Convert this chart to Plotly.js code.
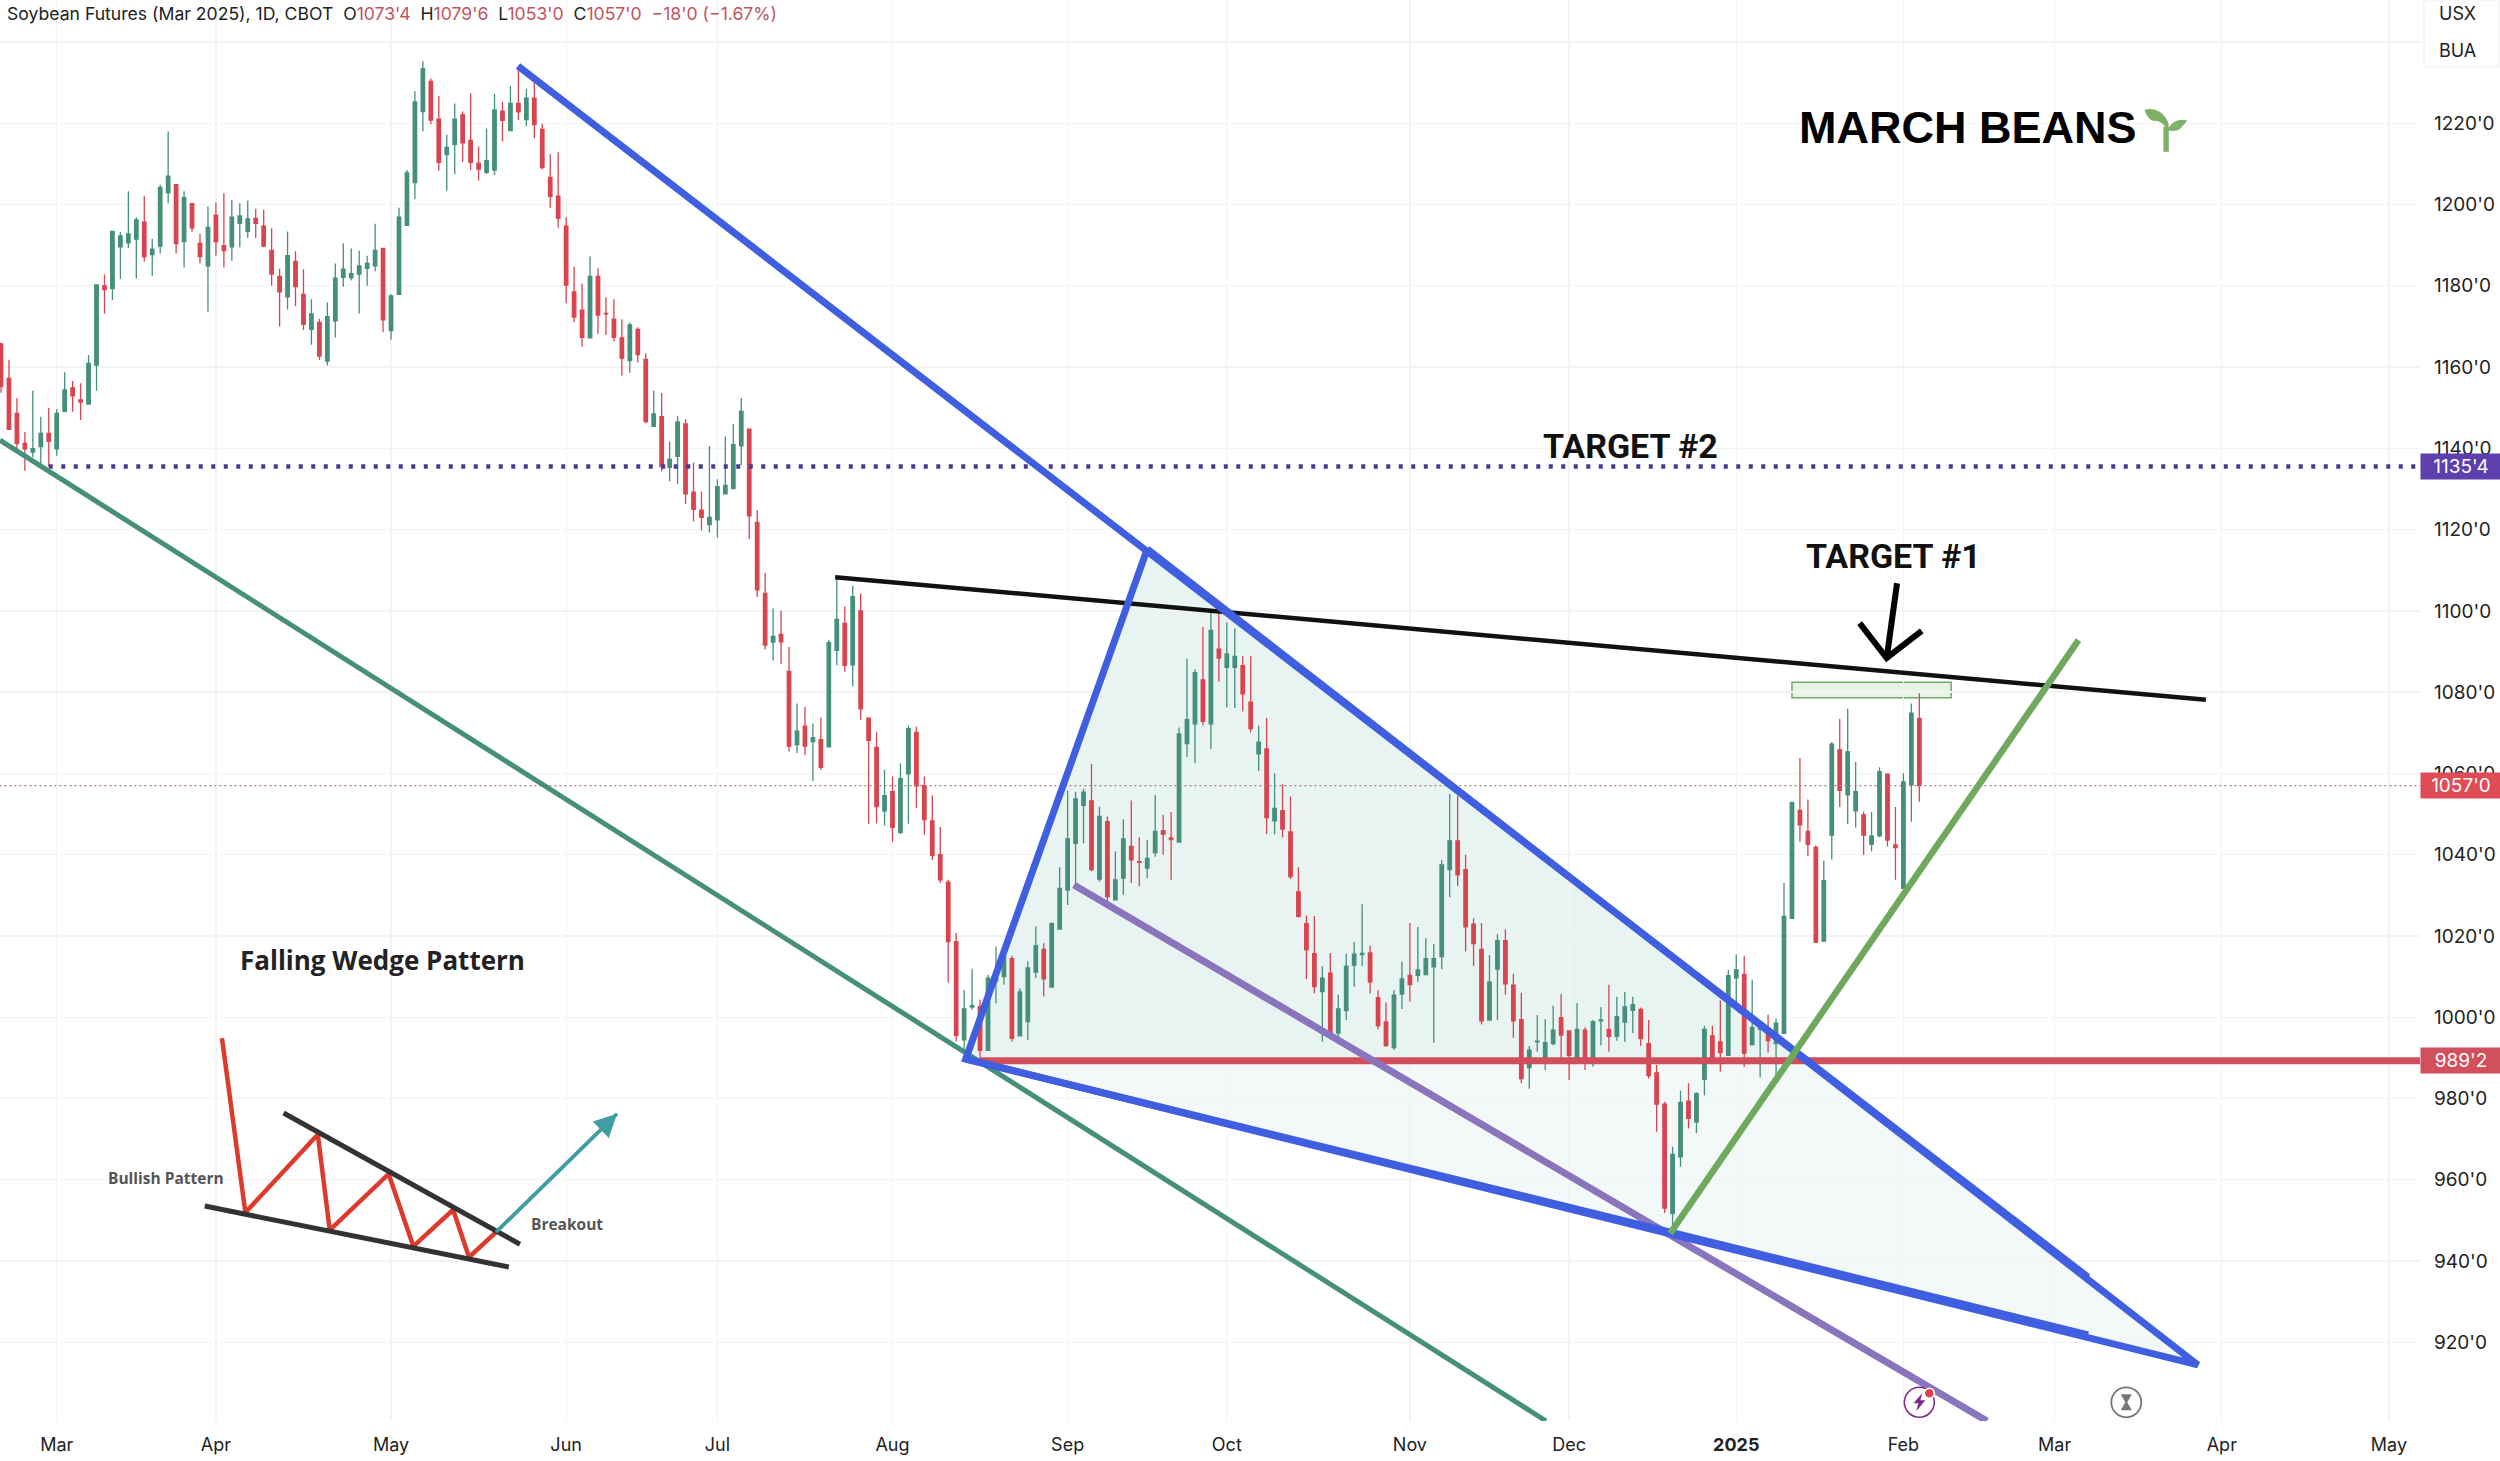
<!DOCTYPE html>
<html><head><meta charset="utf-8">
<script src="https://cdn.plot.ly/plotly-3.0.1.min.js"></script>
<style>html,body{margin:0;padding:0;background:#fff}#c{width:2500px;height:1461px}</style>
</head><body><div id="c"></div>
<script>
// Candles: bar index is the position (price in cents/bu)
const opens=[1165.7,1157.2,1148.6,1141.2,1139.1,1140.4,1143.7,1139.9,1149.1,1154.9,
1151.9,1150.9,1160.5,1180,1179.3,1189.6,1190.6,1191.5,1195.7,1187.7,
1189.8,1202.9,1204.9,1190.9,1200.2,1190.5,1184.9,1197.4,1189.9,1189.6,
1195.4,1193.4,1196.6,1194.7,1188.7,1182.3,1177.3,1186,1177.9,1169.3,
1171,1161.5,1171.4,1182.1,1182,1182.9,1184.3,1184.9,1189.2,1169,
1177.9,1194.9,1205.4,1222.9,1230.3,1221,1212.3,1214.8,1222.1,1215.8,
1210.2,1207.9,1208.5,1223,1218.2,1224.9,1220.9,1226.2,1218.5,1206.7,
1202.1,1194.7,1178.5,1174,1167.2,1182.3,1173.2,1171.8,1167.2,1161.6,
1169.3,1161.9,1145.4,1147.8,1135.3,1138,1146,1129.2,1124.8,1121.2,
1122.4,1128.8,1130.1,1140.6,1144.7,1121.8,1104.3,1092.3,1094.2,1085.1,
1067.1,1071.6,1067.8,1068.3,1066.5,1090.3,1096.9,1086.7,1100,1073.6,
1066.4,1050.8,1055.5,1045.5,1059.9,1070.1,1057,1048.3,1040,1033.2,
1018.6,994.4,1002.5,1002.6,991.8,1008.9,1010,1014.4,995.4,998.9,
1011.1,1016.7,1007.4,1021.7,1031.3,1042.8,1052.1,1053.2,1034,1048.1,
1028.9,1034.2,1042,1038.3,1036.7,1040.5,1045.9,1044.1,1043.1,1067.3,
1072.2,1083,1072.2,1090.6,1086.1,1086.1,1086.5,1077.5,1064.8,1066,
1048.3,1050.8,1045.6,1030.8,1023,1015.6,1006.3,1010.8,996.1,1001.6,
1012.8,1015.4,1015.8,1004.8,998.8,992.5,1005.7,1010.3,1010.3,1010.5,
1012.4,1014.9,1036.3,1043.4,1036.3,1022.9,1016.7,999.3,1011.8,1018.8,
1007.9,999.4,987.6,993.9,988.6,993.5,999.9,996.6,989.8,996.8,
988.6,999.1,997,995.3,998.8,1001.7,1001.9,993.5,986.3,978.6,
951.7,965.6,979.3,974.2,984.7,995.4,993.9,990.6,1009.7,1010.5,
993.2,997,996.8,993.5,996,1024.3,1050.9,1045.7,1041.8,1018.7,
1044.8,1065.8,1054.7,1050.8,1049.8,1042.5,1044.6,1059.8,1042.4,1031.7,1057.2,1073.5];
const highs=[1166,1161.8,1152.4,1144,1154.2,1147.8,1149.9,1149.7,1158.7,1156.6,
1156,1163,1180.4,1182.8,1193.5,1193.3,1203.3,1196.9,1202.1,1191.5,
1204.9,1218,1204.9,1203.3,1200.3,1192.8,1199.5,1200.5,1202.8,1201.1,
1200.3,1201,1199,1198.7,1194.2,1184.2,1193.4,1188.5,1184.1,1176.7,
1171.9,1175.9,1185.5,1190.5,1189.2,1188.7,1187.4,1195.3,1189.3,1177.9,
1199.2,1208.5,1227.9,1235.3,1231,1226.7,1217.2,1224.9,1222.9,1227.4,
1214.3,1218.7,1227.3,1225.3,1229.2,1233.9,1228.5,1231,1219.8,1212.4,
1212.9,1196.9,1184.7,1180.6,1187.2,1184.3,1177.2,1176.7,1171.8,1171,
1169.8,1163.4,1154.2,1153.6,1141.7,1148,1147.2,1136.5,1129.4,1140.6,
1132.4,1142.9,1146,1152.4,1144.7,1124.8,1109.3,1100.6,1100,1091.1,
1077.2,1076.4,1072.3,1073.7,1092.9,1108.2,1101.1,1106.2,1104.3,1073.7,
1070.1,1060.9,1059.2,1062.5,1071.8,1071.5,1059.2,1054.6,1046.8,1033.8,
1020.7,1006.7,1011.9,1004.3,1010.4,1017.4,1017,1015.1,1007.1,1013.7,
1022.3,1018.2,1023.3,1036.9,1055.8,1055.5,1056.2,1062.3,1051.8,1049.4,
1040.8,1048.7,1053.3,1044.3,1043.6,1054.6,1049.8,1050.5,1071.3,1088.2,
1085.6,1096,1099.8,1100.2,1097.2,1095.7,1088.8,1088.8,1071.7,1073.6,
1060,1057.3,1054.3,1036.9,1025,1024.9,1012.5,1015.8,1005.5,1015.6,
1018.5,1027.8,1017.6,1006.6,1003.6,1006.6,1013.7,1023.2,1022.2,1019.4,
1018,1038.7,1054.9,1054.5,1040,1024.3,1023.2,1015.3,1020.4,1021.6,
1010.6,1006,992.9,1000.5,999.5,1002.8,1005.7,996.6,1003.5,997.5,
999.3,1002.5,1008,1005,1006.2,1005,1002.4,999.3,988.2,979.2,
968.1,981.9,983.7,981.5,997.8,997.9,1004.1,1011.6,1015.4,1015.1,
1009.2,997.5,1000.6,999.6,1033,1053.1,1063.8,1053.6,1042.3,1038.5,
1067.7,1073.4,1075.9,1062.8,1050.6,1050.5,1061.5,1060,1051.7,1060,1077.2,1079.75];
const lows=[1153.7,1144.5,1139,1134.5,1137.8,1135.5,1135.5,1138.2,1149.1,1149,
1147,1150.9,1154.2,1173.2,1176.5,1181.7,1189.3,1181.8,1186,1182.5,
1188,1200.3,1188,1184.5,1193.3,1185.5,1173.6,1187.4,1184.5,1186.2,
1189.5,1191.8,1191.8,1189.5,1180,1170,1174.2,1175,1169.1,1165.5,
1161.8,1160.4,1167.3,1179.8,1181.3,1173.2,1180,1183.6,1168.6,1166.7,
1177.9,1194.9,1201.3,1218,1219.8,1208.4,1203.4,1207.5,1210.5,1208.5,
1205.9,1207.5,1207.3,1215.5,1218.2,1220.8,1219.3,1216.3,1208.7,1199.2,
1194.3,1175.7,1171.1,1165,1167.2,1168.2,1167.9,1166.3,1157.9,1158.6,
1161.1,1146.2,1145.4,1134.3,1131.9,1131.2,1126.3,1122,1119.8,1119.3,
1118,1128.8,1130.1,1135.9,1117.7,1103.4,1090.5,1087.8,1086.9,1065.4,
1065,1064.5,1058.1,1060.8,1066.5,1086.6,1085,1081.4,1073.2,1047.6,
1047.7,1047.2,1043.2,1045,1047.6,1051.4,1044.9,1038.7,1033,1008.5,
994,992,1001.8,989.5,991.8,1003.4,1008,994,995.4,994.4,
1009.6,1005.1,1007.4,1021.7,1027.6,1032.6,1042.8,1035.9,1033.4,1028.5,
1028.9,1030.1,1033,1032.2,1034.2,1039.5,1040,1033.8,1043.1,1064,
1062.5,1071.8,1066,1082.6,1076.2,1076.1,1075.2,1070.1,1060.6,1045.1,
1045,1044.3,1034,1024.5,1009.4,1005.9,994,995.9,995.1,999.3,
1007.5,1012.6,1005.8,997,992.7,991.9,1002,1003.8,1008.7,1010.5,
993.7,1011.8,1029.5,1032.3,1016.2,1012.6,998.2,999.3,999.3,1005.5,
994.9,983.7,982.4,991.5,987,993.1,989.8,984.5,989.8,987,
987.8,993.1,991.5,994.2,993.9,996.1,992.9,984.9,971.8,951.8,
947.6,963.2,972.6,971.5,980.8,989,986.6,990.6,1003.6,987.7,
993.2,985.2,991.3,985.7,996,1024.3,1043.2,1039.6,1018.2,1018.7,
1038.8,1051.7,1047.5,1046.7,1039.9,1040.8,1044.3,1042,1033.8,1031.7,1048.1,1053];
const closes=[1155.2,1144.7,1141.2,1139.9,1139.9,1143.7,1141.7,1148.6,1154.4,1152.9,
1151.4,1160.9,1180.2,1179.1,1193.4,1192.3,1192.8,1196.2,1187.2,1189,
1204.2,1207,1190.4,1201.7,1194.3,1187.2,1194.4,1190.9,1188.7,1196.9,
1197.2,1196.5,1195.4,1189.8,1182.9,1178.5,1187.4,1179.8,1170.5,1173.1,
1162.7,1172.4,1181.9,1184.1,1183,1184.9,1185.5,1188.7,1171.6,1177.5,
1196.9,1207.8,1225.3,1233.4,1220.8,1210.4,1214.1,1221,1215.2,1210.4,
1208.7,1210.8,1223.3,1220.7,1224.9,1222.8,1226.2,1219.7,1209.1,1202,
1196.6,1180.2,1172.3,1167.3,1182.3,1172.8,1173.1,1167.3,1162.2,1170.4,
1163.1,1146.6,1148.5,1135.5,1137.3,1146.5,1128.8,1125,1123,1123,
1130.6,1130.9,1140.9,1149.1,1123.4,1105.2,1091.6,1093.7,1092.4,1066.7,
1070.4,1066.7,1068.8,1061.5,1092.2,1097.9,1086.6,1103.5,1075.9,1068.1,
1051.8,1054.5,1046.7,1058.7,1071,1056.9,1048.6,1039.8,1033.8,1018.6,
995.5,1002,1002.8,991.8,1009.6,1009.4,1014.8,994.8,1006.2,1012.1,
1017.6,1009.4,1023,1031.7,1043.9,1053.7,1055.4,1036.3,1049.4,1029.7,
1033.8,1043.9,1038.7,1038.1,1039.1,1045.7,1045,1043.7,1069.7,1073.2,
1084.8,1072.8,1095.2,1088.4,1089.4,1088.8,1079.6,1071,1067.7,1049.1,
1051.4,1046.3,1034.6,1024.8,1016.6,1007.5,1009.6,995.9,1002,1012.5,
1015.5,1015.7,1008.7,997.9,993,1005.4,1009.4,1008,1011.6,1014.4,
1014.4,1037.5,1043.4,1035,1022.2,1018.1,999.1,1008.6,1018.8,1008.2,
999.1,984.9,991.9,994.1,993.7,996.8,995.6,990.6,997,988.6,
998.9,999.3,995.3,1000.1,1002.5,1003.1,994.7,985.6,978.6,953,
966.2,979,975.1,981.2,997,989,991.3,1010.2,1011.6,991.1,
997.5,997.2,994.2,998.5,1024.8,1052.8,1047.3,1042.5,1018.5,1033.6,
1067.2,1055.8,1065.3,1055.5,1044.8,1044.6,1060.4,1043.6,1041.7,1057.9,1074.8,1057];

// Axis labels
const monthBars=[7,27,49,71,90,112,134,154,177,197,218,239,258,279,300];
const monthLabels=['Mar','Apr','May','Jun','Jul','Aug','Sep','Oct','Nov','Dec','<b>2025</b>','Feb','Mar','Apr','May'];
const priceTicks=[920,940,960,980,1000,1020,1040,1060,1080,1100,1120,1140,1160,1180,1200,1220];
const priceLabels=["920'0","940'0","960'0","980'0","1000'0","1020'0","1040'0","1060'0","1080'0","1100'0","1120'0","1140'0","1160'0","1180'0","1200'0","1220'0"];

// Drawn trend lines: [bar, price] pairs
const channelTeal=[[-0.13,1142],[194.1,900.6]];
const wedgeUpper=[[64.95,1234.1],[262.2,936]];
const wedgeLower=[[121.2,989.7],[262.2,921.8]];
const triangle=[[144,1115.2],[121.2,989.7],[276,914.4]];
const triangleTop=[[144,1115.2],[121.2,989.7],[226.8,989.25]];
const purpleLine=[[134.8,1032.5],[249.5,900.6]];
const breakoutLine=[[209.7,946.8],[261,1092.8]];
const resistance=[[104.8,1108.3],[277,1078.1]];
const support=[[123,989.25],[304,989.25]];
const target2=[[6,1135.5],[304,1135.5]];
const lastPrice=[[-0.2,1057],[304,1057]];
const arrowShaft=[[238.2,1106.8],[236.9,1088.4]];
const arrowHead=[[233.5,1097],[236.9,1088.4],[241.3,1095.1]];
// Falling-wedge inset drawing
const insetZig=[[27.76,994.8],[30.7,951.9],[39.8,971.1],[41.3,947.6],[48.7,961.4],[51.8,943.6],[56.8,952.6],[58.8,940.9],[62.2,947.1]];
const insetTop=[[35.5,976.4],[65.2,944.1]];
const insetBottom=[[25.6,953.5],[63.8,938.5]];
const insetBreak=[[62.2,947.1],[77.4,976.2]];

const bars=opens.map((_,i)=>i);
const FONT='Inter, "Liberation Sans", sans-serif';
function ln(pts,color,width,dash){return {type:'scatter',mode:'lines',x:pts.map(p=>p[0]),y:pts.map(p=>p[1]),
  line:{color:color,width:width,dash:dash||'solid'},hoverinfo:'skip',showlegend:false,cliponaxis:true};}
function poly(pts){return 'M'+pts.map(p=>p[0]+','+p[1]).join(' L')+' Z';}

const BLUE='#3f5fe0';
const traces=[
 {type:'candlestick',x:bars,open:opens,high:highs,low:lows,close:closes,
  increasing:{line:{color:'#458f7b',width:1.3},fillcolor:'#458f7b'},
  decreasing:{line:{color:'#d9444f',width:1.3},fillcolor:'#d9444f'},
  whiskerwidth:0,hoverinfo:'skip',showlegend:false},
 ln(lastPrice,'#a8807f',1.3,'2px,3px'),
 ln(target2,'#4a3a96',4.5,'4px,8.5px'),
 ln(channelTeal,'#468f7b',5),
 ln(support,'#cf4f5c',7),
 ln(purpleLine,'#8a74bb',7),
 ln(resistance,'#111111',4.5),
 ln(wedgeLower,BLUE,7),
 ln(wedgeUpper,BLUE,7),
 ln(triangle.concat([triangle[0]]),BLUE,7),
 ln(breakoutLine,'#6ea95c',6.5),
 ln(arrowShaft,'#000',6),
 ln(arrowHead,'#000',6),
 ln(insetZig,'#de3a2c',4.5),
 ln(insetTop,'#333',5),
 ln(insetBottom,'#333',5),
 ln(insetBreak.slice(0,2),'#3e9ea3',3.5)
];
traces.forEach(t=>{if(t.type==='scatter'){t.line.simplify=false;}});

function txt(x,y,t,size,color,weight,family,extra){return Object.assign({x:x,y:y,xref:'x',yref:'y',text:weight?'<b>'+t+'</b>':t,showarrow:false,
  font:{family:family||FONT,size:size,color:color},xanchor:'center',yanchor:'middle'},extra||{});}
function tag(y,t,bg){return {xref:'paper',yref:'y',x:1,y:y,xanchor:'left',yanchor:'middle',text:t,showarrow:false,width:80,height:25,
  bgcolor:bg,borderpad:0,font:{family:FONT,size:19,color:'#fff'},align:'center'};}

const red='#bf5560';
const header='<span style="color:#222">Soybean Futures (Mar 2025), 1D, CBOT  O</span><span style="color:'+red+'">1073\'4</span>'+
 '<span style="color:#222">  H</span><span style="color:'+red+'">1079\'6</span><span style="color:#222">  L</span><span style="color:'+red+'">1053\'0</span>'+
 '<span style="color:#222">  C</span><span style="color:'+red+'">1057\'0</span><span style="color:'+red+'">  −18\'0 (−1.67%)</span>';

const annotations=[
 {xref:'paper',yref:'paper',x:5/2420,y:1-13/1421,xanchor:'left',yanchor:'middle',text:header,showarrow:false,font:{family:FONT,size:17.6,color:'#222'}},
 {xref:'paper',yref:'paper',x:2437/2420,y:1-14/1421,xanchor:'left',yanchor:'middle',text:'USX',showarrow:false,font:{family:FONT,size:18,color:'#222'}},
 {xref:'paper',yref:'paper',x:2437/2420,y:1-50/1421,xanchor:'left',yanchor:'middle',text:'BUA',showarrow:false,font:{family:FONT,size:18,color:'#222'}},
 txt(247.1,1219,'MARCH BEANS',45,'#000',true,'"Liberation Sans", sans-serif'),
 txt(204.7,1140.7,'TARGET #2',34,'#111',true,'Roboto, sans-serif'),
 txt(237.7,1113.5,'TARGET #1',34,'#111',true,'Roboto, sans-serif'),
 txt(47.9,1014,'Falling Wedge Pattern',26,'#222',true,'"Open Sans", sans-serif'),
 txt(20.7,960.5,'Bullish Pattern',15.5,'#555',true,'"Open Sans", sans-serif'),
 txt(71.1,949,'Breakout',15.5,'#555',true,'"Open Sans", sans-serif'),
 {xref:'x',yref:'y',axref:'x',ayref:'y',x:insetBreak[1][0],y:insetBreak[1][1],ax:insetBreak[0][0],ay:insetBreak[0][1],
  text:'',showarrow:true,arrowhead:2,arrowsize:1.3,arrowwidth:3.5,arrowcolor:'#3e9ea3'},
 tag(1135.5,"1135'4",'#5d3fae'),
 tag(1057,"1057'0",'#e04b55'),
 tag(989.25,"989'2",'#d1505c')
];

const ICONY=905.2, BOLT_X=241, HOUR_X=267;
function pix(xa,ya,extra){return Object.assign({xref:'x',yref:'y',xsizemode:'pixel',ysizemode:'pixel',xanchor:xa,yanchor:ya,layer:'above'},extra);}
const shapes=[
 // white backing of the pasted inset
 {type:'rect',xref:'x',yref:'y',x0:11.3,x1:82.8,y0:934,y1:1022.7,fillcolor:'#ffffff',line:{width:0},layer:'below'},
 // triangle fills
 {type:'path',xref:'x',yref:'y',path:poly(triangle),fillcolor:'rgba(0,137,123,0.05)',line:{width:0},layer:'below'},
 {type:'path',xref:'x',yref:'y',path:poly(triangleTop),fillcolor:'rgba(0,137,123,0.045)',line:{width:0},layer:'below'},
 // target zone
 {type:'rect',xref:'x',yref:'y',x0:225,x1:245,y0:1078.6,y1:1082.4,fillcolor:'rgba(120,185,105,0.17)',line:{color:'#74a96c',width:1.5},layer:'below'},
 // price axis currency box
 {type:'rect',xref:'paper',yref:'paper',x0:2424/2420,x1:2499/2420,y0:1-67/1421,y1:1.0,line:{color:'#f0f0f0',width:1.2},fillcolor:'rgba(0,0,0,0)',layer:'above'},
 // seedling
 pix(272,1218.4,{type:'path',path:'M-2.7,-22 L2.7,-22 L2.7,3 L-2.7,3 Z',fillcolor:'#7fb069',line:{width:0}}),
 pix(272,1218.4,{type:'path',path:'M-21.7,20 C-12,23 -1,18 2.5,6 L2.7,-2 C-2,6 -6,9 -13,9 C-17,10 -20,15 -21.7,20 Z',fillcolor:'#7fb069',line:{width:0}}),
 pix(272,1218.4,{type:'path',path:'M21.3,9.3 C15,11 6,10 1,-1 C6,-1 12,-2 15,2 Z',fillcolor:'#7fb069',line:{width:0}}),
 // bottom icons
 pix(BOLT_X,ICONY,{type:'circle',x0:-15,x1:15,y0:-15,y1:15,fillcolor:'#fff',line:{color:'#7b2d8b',width:1.6}}),
 pix(BOLT_X,ICONY,{type:'path',path:'M3,9 L-6,-1 L-1,-1 L-3,-9 L6,2 L1,2 Z',fillcolor:'#7b2d8b',line:{width:0}}),
 pix(BOLT_X,ICONY,{type:'circle',x0:5,x1:15,y0:4,y1:14,fillcolor:'#d9444f',line:{color:'#fff',width:1.5}}),
 pix(HOUR_X,ICONY,{type:'circle',x0:-15,x1:15,y0:-15,y1:15,fillcolor:'#fff',line:{color:'#777',width:1.8}}),
 pix(HOUR_X,ICONY,{type:'path',path:'M-5,8 L5,8 L5,7 L1,0 L5,-7 L5,-8 L-5,-8 L-5,-7 L-1,0 L-5,7 Z',fillcolor:'#777',line:{width:0}})
];

const layout={
 width:2500,height:1461,margin:{l:0,r:80,t:0,b:40,pad:0},paper_bgcolor:'#fff',plot_bgcolor:'#fff',showlegend:false,boxgap:0.38,
 xaxis:{type:'linear',range:[-0.1256,303.9],tickmode:'array',tickvals:monthBars,ticktext:monthLabels,showgrid:true,gridcolor:'#f3f3f3',gridwidth:1.3,
  zeroline:false,showline:false,ticks:'',ticklabelstandoff:11,tickfont:{family:FONT,size:18,color:'#222'},rangeslider:{visible:false},fixedrange:true},
 yaxis:{type:'linear',side:'right',range:[900.6,1250.35],tickmode:'array',tickvals:priceTicks.concat([1240]),ticktext:priceLabels.concat(['']),showgrid:true,gridcolor:'#f3f3f3',gridwidth:1.3,
  zeroline:false,showline:false,ticks:'',ticklabelstandoff:13,tickfont:{family:FONT,size:19,color:'#222'},fixedrange:true},
 annotations:annotations,shapes:shapes
};
Plotly.newPlot('c',traces,layout,{staticPlot:true,displayModeBar:false});
</script></body></html>
